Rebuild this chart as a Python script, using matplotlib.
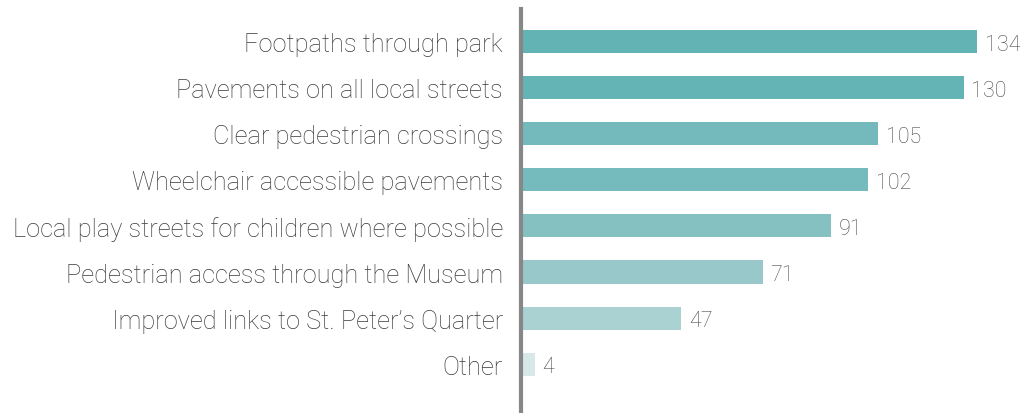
import matplotlib.pyplot as plt

categories = [
    "Footpaths through park",
    "Pavements on all local streets",
    "Clear pedestrian crossings",
    "Wheelchair accessible pavements",
    "Local play streets for children where possible",
    "Pedestrian access through the Museum",
    "Improved links to St. Peter\u2019s Quarter",
    "Other",
]
values = [134, 130, 105, 102, 91, 71, 47, 4]
colors = ["#63b2b4", "#64b3b5", "#74b9bc", "#75babd", "#86c1c2", "#98c8c9", "#aad2d2", "#d6e8e8"]

plt.rcParams['font.family'] = ['Roboto', 'DejaVu Sans']

fig = plt.figure(figsize=(10.35, 4.14), dpi=100)
ax = fig.add_axes([521 / 1035, 0, 1 - 521 / 1035, 404 / 414])

pos = list(range(len(categories)))
ax.barh(pos, values, height=0.5, color=colors)
ax.set_xlim(0, 151)
ax.set_ylim(7 + 1.065, -0.717)

for p, v in zip(pos, values):
    ax.text(v + 2.3, p + 0.06, str(v), va='center', ha='left', fontsize=15.5,
            color='#4a4a4a', fontweight='light')

ax.set_yticks(pos)
ax.set_yticklabels(categories, fontsize=18.3, color='#3a3a3a', fontweight='light')
ax.tick_params(axis='y', length=0, pad=13)
ax.set_xticks([])

for s in ['top', 'right', 'bottom']:
    ax.spines[s].set_visible(False)
ax.spines['left'].set_color('#878787')
ax.spines['left'].set_linewidth(3)

fig.savefig('out.png', dpi=100)
